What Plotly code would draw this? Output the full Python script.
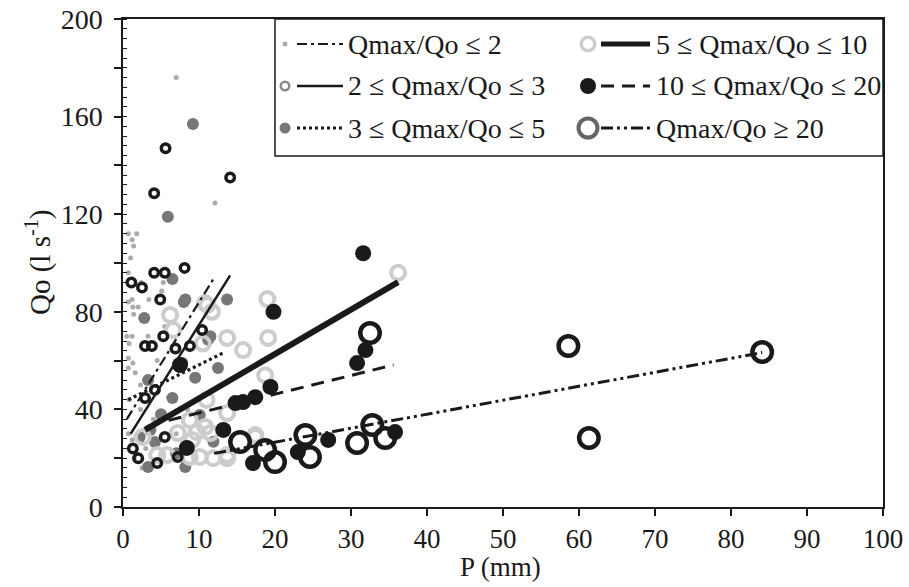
import plotly.graph_objects as go

# ---------------- data ----------------
series_names = ["Qmax/Qo ≤ 2", "2 ≤ Qmax/Qo ≤ 3", "3 ≤ Qmax/Qo ≤ 5",
                "5 ≤ Qmax/Qo ≤ 10", "10 ≤ Qmax/Qo ≤ 20", "Qmax/Qo ≥ 20"]

s1_x = [7.0, 12.1, 1.8, 1.2, 1.4, 0.7, 0.7, 1.0, 2.4, 5.3, 5.1, 3.4, 1.2, 0.7, 1.3, 2.0,
        1.4, 0.8, 0.7, 0.7, 0.5, 1.2, 3.3, 1.3, 1.6, 2.3, 1.2, 0.7, 2.3, 4.0, 3.0, 1.5,
        2.5, 6.0, 4.5, 0.8, 5.5, 8.5, 7.0, 3.5]
s1_y = [176, 124.6, 112, 109.5, 107, 96, 112, 102, 92, 92, 88.5, 85, 85, 84, 82, 82,
        79, 67, 61, 57, 70, 70, 70, 59, 55, 50, 27.5, 30, 40, 36, 24, 20,
        16, 45, 60, 44, 74, 40, 30, 33]

s2_x = [5.6, 14.1, 4.1, 1.1, 2.5, 4.1, 5.5, 8.1, 4.9, 5.3, 10.4, 2.9, 3.8, 6.9, 8.8,
        4.2, 2.9, 1.3, 2.0, 5.5, 7.2, 4.5]
s2_y = [147, 135, 128.6, 92, 90, 96, 96, 98, 85, 70, 72.5, 66, 66, 65, 66,
        48, 44.7, 24, 20, 28.7, 20.5, 18]

s3_x = [9.2, 5.9, 6.5, 8.2, 13.7, 2.8, 7.8, 3.3, 11.2, 9.5, 6.5, 3.6, 2.2, 3.3, 8.2,
        4.2, 12.5, 8.0, 11.5, 11.9, 10.1, 5.0, 7.0]
s3_y = [157, 119, 93.4, 85, 85, 77.5, 59, 52, 68.5, 53, 44.7, 31.6, 28.7, 16.4, 16.4,
        26.6, 57, 84, 70, 26.7, 37.7, 38, 22]

s4_x = [36.2, 19.0, 19.1, 13.7, 15.8, 18.7, 17.4, 13.7, 10.8, 10.5, 11.0, 10.8, 8.8, 9.7,
        11.5, 13.7, 8.8, 10.1, 11.9, 13.7, 6.2, 6.6, 11.1, 11.7, 2.6, 7.2, 4.5, 5.8, 9.1, 17.4]
s4_y = [96, 85.2, 69.3, 69.3, 64.3, 54, 29.5, 21.3, 83.6, 67, 43.9, 32.8, 35.7, 30.7,
        30.3, 38.5, 20.5, 20.5, 20, 20, 78.7, 72.5, 82.8, 80, 28.7, 30.3, 21.3, 21.3, 27.5, 28.7]

s5_x = [31.6, 19.8, 31.9, 30.8, 19.4, 17.4, 15.8, 14.8, 13.2, 27.0, 17.1, 23.0, 35.8, 8.4, 7.5]
s5_y = [104, 80, 64.3, 59, 49.2, 45, 43, 42.6, 31.6, 27.5, 18, 22.5, 30.7, 24.2, 58.2]

s6_x = [58.6, 61.3, 84.1, 32.5, 32.8, 30.8, 34.5, 24.0, 24.6, 20.0, 18.7, 15.4]
s6_y = [66, 28.3, 63.5, 71.3, 33.6, 26.2, 28.3, 29.5, 20.5, 18.4, 23.4, 26.6]

# fitted lines per series: slope, intercept, x range
fit_slope = [5.04, 4.96, 1.535, 1.82, 0.767, 0.573]
fit_icept = [33.5, 25.0, 42.9, 26.3, 30.9, 15.1]
fit_xmin = [0.5, 1.0, 0.7, 2.9, 6.0, 12.0]
fit_xmax = [12.0, 14.1, 13.4, 36.2, 35.6, 84.1]

x_ticks = list(range(0, 101, 10))
y_label_ticks = list(range(0, 201, 40))
y_mid_ticks = list(range(20, 201, 40))
y_minor = list(range(0, 201, 4))

# ---------------- styles ----------------
FONT = "Liberation Serif"
TXT = "#1a1a1a"
marker_styles = [
    dict(symbol="circle", size=5, color="#ababab"),
    dict(symbol="circle-open", size=8.5, color="#1a1a1a", line=dict(width=3.5, color="#1a1a1a")),
    dict(symbol="circle", size=12, color="#777777"),
    dict(symbol="circle-open", size=14, color="#cccccc", line=dict(width=4, color="#cccccc")),
    dict(symbol="circle", size=16, color="#1a1a1a"),
    dict(symbol="circle-open", size=19.5, color="#1a1a1a", line=dict(width=4.5, color="#1a1a1a")),
]
line_styles = [
    dict(color="#1a1a1a", width=2.2, dash="10px,4px,3px,4px"),
    dict(color="#1a1a1a", width=2.5, dash="solid"),
    dict(color="#1a1a1a", width=3.2, dash="3px,3px"),
    dict(color="#1a1a1a", width=6, dash="solid"),
    dict(color="#1a1a1a", width=3, dash="13px,8px"),
    dict(color="#1a1a1a", width=3, dash="12px,4px,3px,4px,3px,4px"),
]
draw_order = [0, 2, 3, 1, 4, 5]

xs = [s1_x, s2_x, s3_x, s4_x, s5_x, s6_x]
ys = [s1_y, s2_y, s3_y, s4_y, s5_y, s6_y]

fig = go.Figure()
for i in draw_order:
    fig.add_trace(go.Scatter(x=xs[i], y=ys[i], mode="markers", name=series_names[i],
                             marker=marker_styles[i], showlegend=False, hoverinfo="skip"))
for i in range(6):
    lx = [fit_xmin[i], fit_xmax[i]]
    ly = [fit_icept[i] + fit_slope[i] * v for v in lx]
    fig.add_trace(go.Scatter(x=lx, y=ly, mode="lines", line=line_styles[i],
                             showlegend=False, hoverinfo="skip"))

# ---------------- layout ----------------
W, H = 909, 587
L, R, T, B = 123, 26, 19, 80
pw, ph = W - L - R, H - T - B


def px(xp):
    return (xp - L) / pw


def py(yp):
    return (H - B - yp) / ph


shapes = []
annotations = []
# legend box
shapes.append(dict(type="rect", xref="paper", yref="paper", x0=px(275), x1=1, y0=py(156), y1=1,
                   line=dict(color="#1a1a1a", width=1.5), fillcolor="white", layer="above"))

leg_marker = [
    dict(r=2.5, fill="#ababab", lc="#ababab", lw=0),
    dict(r=5.5, fill="white", lc="#888888", lw=2.5),
    dict(r=5.5, fill="#777777", lc="#777777", lw=0),
    dict(r=8.5, fill="white", lc="#cccccc", lw=3.5),
    dict(r=8, fill="#1a1a1a", lc="#1a1a1a", lw=0),
    dict(r=11.5, fill="white", lc="#666666", lw=4),
]
rows_y = [44, 86, 128]
col_marker_x = [285, 588]
col_line_x = [(297, 343), (601, 650)]
col_text_x = [346, 654]
pos = {0: (0, 0), 1: (0, 1), 2: (0, 2), 3: (1, 0), 4: (1, 1), 5: (1, 2)}
for i in range(6):
    c, r = pos[i]
    m = leg_marker[i]
    rr = m["r"] - m["lw"] / 2
    shapes.append(dict(type="circle", xref="paper", yref="paper", xsizemode="pixel", ysizemode="pixel",
                       xanchor=px(col_marker_x[c]), yanchor=py(rows_y[r]),
                       x0=-rr, x1=rr, y0=-rr, y1=rr, fillcolor=m["fill"],
                       line=dict(color=m["lc"], width=m["lw"]), layer="above"))
    ls = line_styles[i]
    shapes.append(dict(type="line", xref="paper", yref="paper",
                       x0=px(col_line_x[c][0]), x1=px(col_line_x[c][1]),
                       y0=py(rows_y[r]), y1=py(rows_y[r]),
                       line=dict(color=ls["color"], width=min(ls["width"], 5), dash=ls["dash"]),
                       layer="above"))
    annotations.append(dict(xref="paper", yref="paper", x=px(col_text_x[c]), y=py(rows_y[r]),
                            xanchor="left", yanchor="middle", showarrow=False,
                            text=series_names[i], font=dict(family=FONT, size=28, color=TXT)))

annotations.append(dict(xref="paper", yref="paper", x=px(500), y=py(567), xanchor="center",
                        yanchor="middle", showarrow=False, text="P (mm)",
                        font=dict(family=FONT, size=27, color=TXT)))
annotations.append(dict(xref="paper", yref="paper", x=px(38), y=py(262), xanchor="center",
                        yanchor="middle", showarrow=False, textangle=-90,
                        text="Qo (l s<sup>-1</sup>)",
                        font=dict(family=FONT, size=29, color=TXT)))

axis_common = dict(showgrid=False, zeroline=False, automargin=False, showline=True,
                   linecolor="#1a1a1a", linewidth=1.5, ticks="outside", ticklen=7,
                   tickwidth=1.5, tickcolor="#1a1a1a")

fig.update_layout(
    width=W, height=H,
    margin=dict(l=L, r=R, t=T, b=B, pad=0, autoexpand=False),
    paper_bgcolor="white", plot_bgcolor="white",
    shapes=shapes, annotations=annotations,
    font=dict(family=FONT, size=27, color=TXT),
    xaxis=dict(range=[0, 100], tickmode="array", tickvals=x_ticks, mirror=True,
               ticklabelstandoff=0, tickfont=dict(family=FONT, size=27, color=TXT), **axis_common),
    yaxis=dict(range=[0, 200], tickmode="array", tickvals=y_label_ticks, mirror=True,
               ticklabelstandoff=6, tickfont=dict(family=FONT, size=28, color=TXT),
               minor=dict(tickmode="array", tickvals=y_minor, ticks="inside", ticklen=4,
                          tickwidth=1.2, tickcolor="#1a1a1a", showgrid=False),
               **axis_common),
    yaxis2=dict(range=[0, 200], overlaying="y", side="left", tickmode="array",
                tickvals=y_mid_ticks, showticklabels=False, **axis_common),
)
# invisible trace to activate the secondary y axis (ticks at 20, 60, ...)
fig.add_trace(go.Scatter(x=[None], y=[None], yaxis="y2", showlegend=False, hoverinfo="skip"))

fig.write_html("out.html", config={"displayModeBar": False},
               post_script="document.body.style.margin='0px';")
